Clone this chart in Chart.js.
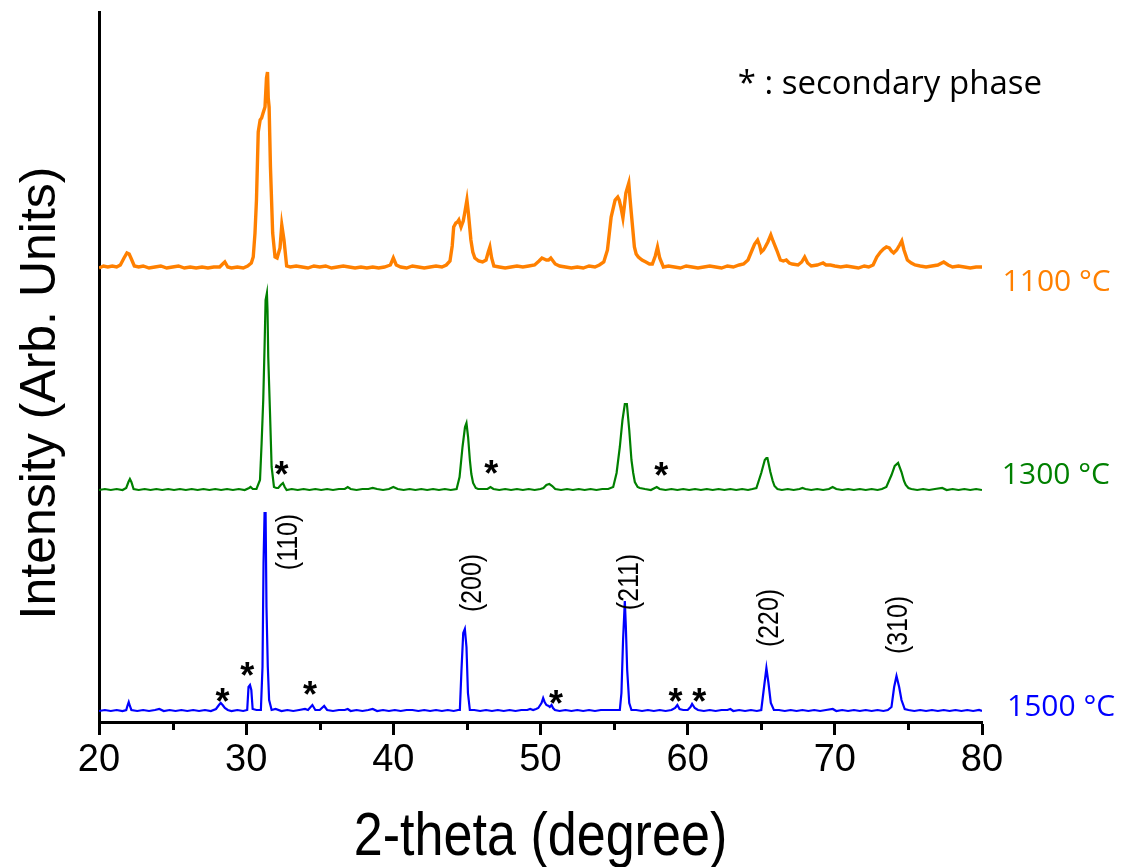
<!DOCTYPE html>
<html>
<head>
<meta charset="utf-8">
<title>XRD patterns</title>
<script src="https://cdn.jsdelivr.net/npm/chart.js@4.4.1/dist/chart.umd.min.js"></script>
<style>
  html, body { margin: 0; padding: 0; background: #fff; }
  canvas { display: block; }
</style>
</head>
<body>
<canvas id="xrd" width="1127" height="867"></canvas>
<script>
// diffraction patterns: [2-theta, intensity above the pattern's own baseline]
const pattern1100 = [
  [20.0,0],[20.3,2],[20.6,1],[20.9,2],[21.2,1],[21.45,3],[21.7,10],[21.9,15],[22.05,14],[22.2,9],[22.4,2],[22.7,1],
  [23.0,2],[23.4,0],[23.8,1],[24.2,2],[24.6,0],[25.0,1],[25.4,2],[25.8,0],[26.2,1],[26.6,0],[27.0,1],[27.4,0],
  [27.8,1],[28.2,1],[28.4,4],[28.55,6],[28.75,1],[29.0,0],[29.4,1],[29.8,0],[30.1,2],[30.35,5],[30.48,11],[30.6,35],
  [30.7,68],[30.82,136],[30.95,148],[31.05,150],[31.15,155],[31.28,161],[31.38,190],[31.45,196],[31.5,170],[31.56,161],
  [31.65,101],[31.8,35],[31.96,11],[32.1,10],[32.3,20],[32.42,43],[32.57,28],[32.75,2],[33.0,1],[33.4,2],[33.8,1],
  [34.2,0],[34.6,2],[35.0,1],[35.4,2],[35.8,0],[36.2,1],[36.6,2],[37.0,1],[37.4,0],[37.8,1],[38.2,0],[38.6,1],
  [39.0,0],[39.4,1],[39.8,3],[40.0,10],[40.2,3],[40.5,1],[40.9,0],[41.3,2],[41.7,1],[42.1,0],[42.5,1],[42.9,2],
  [43.3,1],[43.6,3],[43.85,7],[44.0,22],[44.1,41],[44.25,45],[44.36,46],[44.45,48],[44.6,41],[44.75,47],[44.85,55],
  [45.0,68],[45.1,55],[45.27,28],[45.4,16],[45.54,10],[45.8,7],[46.06,6],[46.3,8],[46.45,16],[46.56,21],[46.68,10],
  [46.83,2],[47.2,1],[47.6,0],[48.0,1],[48.4,2],[48.8,1],[49.2,2],[49.6,3],[49.9,7],[50.1,10],[50.4,8],[50.55,8],
  [50.7,10],[51.0,4],[51.3,2],[51.7,1],[52.1,0],[52.5,1],[52.9,0],[53.3,2],[53.7,1],[54.0,3],[54.3,6],[54.55,18],
  [54.8,51],[55.07,68],[55.25,71],[55.35,68],[55.46,61],[55.6,50],[55.7,62],[55.8,75],[55.9,80],[56.0,85],[56.08,70],
  [56.17,55],[56.38,21],[56.5,14],[56.65,11],[56.9,8],[57.16,6],[57.4,4],[57.6,4],[57.8,12],[57.95,21],[58.1,10],
  [58.35,1],[58.7,2],[59.1,1],[59.5,0],[59.9,2],[60.3,1],[60.7,0],[61.1,1],[61.5,2],[61.9,1],[62.3,0],[62.7,2],
  [63.1,1],[63.5,3],[63.8,4],[64.1,8],[64.38,18],[64.55,24],[64.75,28],[64.9,22],[65.0,16],[65.15,18],[65.27,21],
  [65.45,26],[65.65,33],[65.8,27],[66.05,18],[66.3,8],[66.5,7],[66.7,8],[66.9,5],[67.1,4],[67.5,3],[67.75,6],
  [67.95,11],[68.15,5],[68.4,2],[68.8,3],[69.0,4],[69.2,5],[69.4,3],[69.7,3],[70.0,2],[70.4,1],[70.8,2],[71.2,1],
  [71.6,0],[72.0,2],[72.3,1],[72.6,3],[72.85,11],[73.1,16],[73.3,19],[73.5,21],[73.7,20],[73.85,17],[74.0,15],
  [74.2,18],[74.4,23],[74.55,27],[74.7,18],[74.93,8],[75.2,5],[75.45,3],[75.8,2],[76.2,1],[76.6,2],[77.0,3],
  [77.4,6],[77.7,3],[78.0,1],[78.4,2],[78.8,1],[79.2,0],[79.6,1],[80.0,1]
];
const pattern1300 = [
  [20.0,0],[20.4,1],[20.8,0],[21.2,1],[21.6,0],[21.85,2],[22.0,8],[22.1,11],[22.2,8],[22.35,1],[22.7,0],[23.1,1],
  [23.5,0],[23.9,1],[24.3,0],[24.7,1],[25.1,0],[25.5,1],[25.9,0],[26.3,1],[26.7,0],[27.1,1],[27.5,0],[27.9,1],
  [28.3,0],[28.7,1],[29.1,0],[29.5,1],[29.9,0],[30.2,2],[30.3,3],[30.45,1],[30.7,1],[30.94,10],[31.05,47],[31.16,90],
  [31.25,143],[31.32,190],[31.41,197],[31.45,180],[31.5,133],[31.62,77],[31.73,23],[31.89,3],[32.05,2],[32.18,2],
  [32.35,5],[32.5,7],[32.62,3],[32.75,0],[33.1,1],[33.5,0],[33.9,1],[34.3,0],[34.7,1],[35.1,0],[35.5,1],[35.9,0],
  [36.3,1],[36.7,1],[36.9,3],[37.1,1],[37.5,0],[37.9,1],[38.3,1],[38.6,2],[38.9,1],[39.3,0],[39.7,1],[40.0,3],
  [40.3,1],[40.7,0],[41.1,1],[41.5,0],[41.9,1],[42.3,0],[42.7,1],[43.1,0],[43.5,1],[43.9,0],[44.3,1],[44.5,13],
  [44.7,43],[44.87,63],[44.97,67],[45.08,53],[45.2,30],[45.3,16],[45.42,7],[45.6,2],[45.76,1],[46.1,1],[46.4,1],
  [46.6,3],[46.8,1],[47.2,0],[47.6,1],[48.0,0],[48.4,1],[48.8,0],[49.2,1],[49.6,0],[50.0,1],[50.2,2],[50.4,5],
  [50.6,6],[50.8,4],[51.0,1],[51.4,0],[51.8,1],[52.2,0],[52.6,1],[53.0,0],[53.4,1],[53.8,0],[54.2,1],[54.6,1],
  [54.94,3],[55.17,17],[55.39,43],[55.57,70],[55.73,86],[55.87,86],[56.03,60],[56.18,30],[56.3,17],[56.41,8],
  [56.6,3],[56.75,2],[57.1,1],[57.5,0],[57.9,3],[58.1,1],[58.5,0],[58.9,1],[59.3,0],[59.7,1],[60.1,0],[60.5,1],
  [60.9,0],[61.3,1],[61.7,0],[62.1,1],[62.5,0],[62.9,1],[63.3,0],[63.7,1],[64.1,0],[64.4,1],[64.67,2],[65.0,17],
  [65.24,30],[65.35,32],[65.42,32],[65.62,18],[65.78,9],[65.9,4],[66.1,1],[66.4,0],[66.8,1],[67.2,0],[67.6,1],
  [67.8,2],[68.0,1],[68.4,0],[68.8,1],[69.2,0],[69.6,1],[69.85,3],[70.1,1],[70.5,0],[70.9,1],[71.3,0],[71.7,1],
  [72.1,0],[72.5,1],[72.9,0],[73.2,1],[73.5,3],[73.85,15],[74.07,24],[74.3,27],[74.53,18],[74.7,9],[74.82,5],
  [75.0,2],[75.2,1],[75.6,0],[76.0,1],[76.4,0],[76.8,1],[77.3,2],[77.6,0],[78.0,1],[78.4,0],[78.8,1],[79.2,0],
  [79.6,1],[80.0,0]
];
const pattern1500 = [
  [20.0,0],[20.4,1],[20.8,0],[21.2,1],[21.6,0],[21.85,1],[21.95,6],[22.02,9],[22.1,5],[22.2,1],[22.6,0],[23.0,1],
  [23.4,0],[23.8,1],[24.1,2],[24.4,0],[24.8,1],[25.2,0],[25.6,1],[26.0,0],[26.4,1],[26.8,0],[27.2,1],[27.6,0],
  [27.95,2],[28.15,6],[28.27,8],[28.4,6],[28.55,3],[28.75,1],[29.0,0],[29.4,1],[29.8,0],[30.07,1],[30.16,24],
  [30.26,26],[30.35,21],[30.44,2],[30.7,1],[31.0,1],[31.11,44],[31.18,148],[31.25,198],[31.32,198],[31.38,104],
  [31.47,44],[31.56,11],[31.73,1],[32.0,2],[32.4,0],[32.8,1],[33.2,0],[33.6,1],[34.0,2],[34.2,1],[34.5,6],[34.7,1],
  [35.0,1],[35.3,5],[35.5,1],[35.9,0],[36.3,1],[36.7,1],[36.9,2],[37.1,0],[37.5,1],[37.9,0],[38.3,1],[38.6,2],
  [38.9,0],[39.3,1],[39.7,0],[40.1,1],[40.5,0],[40.9,1],[41.3,1],[41.7,0],[42.1,1],[42.5,0],[42.9,1],[43.3,0],
  [43.7,1],[44.1,0],[44.4,1],[44.52,1],[44.63,41],[44.75,78],[44.86,82],[44.97,64],[45.07,18],[45.2,1],[45.5,1],
  [45.9,0],[46.3,1],[46.7,0],[47.1,1],[47.5,0],[47.9,1],[48.3,0],[48.7,1],[49.1,1],[49.3,2],[49.5,1],[49.7,2],
  [49.85,3],[50.07,8],[50.18,13],[50.28,9],[50.4,6],[50.55,5],[50.63,4],[50.75,6],[50.85,3],[50.98,1],[51.3,0],
  [51.7,1],[52.1,0],[52.5,1],[52.9,0],[53.3,1],[53.7,0],[54.1,1],[54.5,1],[54.9,1],[55.2,1],[55.39,1],[55.5,18],
  [55.61,71],[55.73,110],[55.8,84],[55.89,41],[56.03,8],[56.18,1],[56.5,1],[56.9,0],[57.3,1],[57.7,0],[58.1,1],
  [58.5,0],[58.9,1],[59.15,3],[59.3,6],[59.45,2],[59.7,1],[60.0,1],[60.19,4],[60.3,7],[60.48,3],[60.7,1],[61.1,0],
  [61.5,1],[61.9,0],[62.3,1],[62.7,1],[62.9,2],[63.1,0],[63.5,1],[63.9,0],[64.3,1],[64.7,0],[65.0,1],[65.19,24],
  [65.35,43],[65.49,28],[65.65,8],[65.86,1],[66.2,1],[66.6,0],[67.0,1],[67.4,0],[67.8,1],[68.2,0],[68.6,1],
  [69.0,0],[69.4,1],[69.86,2],[70.1,0],[70.5,1],[70.9,0],[71.3,1],[71.7,0],[72.1,1],[72.5,0],[72.9,1],[73.3,0],
  [73.6,1],[73.85,4],[74.03,24],[74.19,35],[74.37,24],[74.53,11],[74.75,2],[75.0,1],[75.4,0],[75.8,1],[76.2,0],
  [76.6,1],[77.0,0],[77.4,1],[77.8,0],[78.2,1],[78.6,0],[79.0,1],[79.4,0],[79.8,1],[80.0,0]
];

const temperatures = ['1100 °C', '1300 °C', '1500 °C'];
const lineColors = ['#ff8000', '#008000', '#0000ff'];
// vertical shift that stacks the patterns
const baselines = [454, 232, 11];

// secondary phase reflections: [2-theta, intensity]
const starMarks = [
  [32.4, 254], [46.65, 255], [58.2, 253],
  [28.4, 27], [30.07, 53], [34.33, 34], [51.05, 25], [59.17, 27], [60.78, 27]
];
// main phase reflections: [hkl, 2-theta, intensity]
const hklLabels = [
  ['(110)', 32.9, 180], ['(200)', 45.37, 139], ['(211)', 56.07, 140],
  ['(220)', 65.6, 104], ['(310)', 74.35, 97]
];
// where each temperature is written: [2-theta, intensity]
const tempLabelAt = [[81.4, 440], [81.35, 247], [81.7, 15]];
const noteText = '* : secondary phase';
const noteAt = [63.4, 637];

const arial = "'Liberation Sans', Arial, sans-serif";

const patterns = [pattern1100, pattern1300, pattern1500];
const datasets = patterns.map((p, i) => ({
  label: temperatures[i],
  data: p.map(([t, h]) => ({ x: t, y: h + baselines[i] })),
  borderColor: lineColors[i],
  borderWidth: [3.4, 2.2, 2.2][i],
  pointRadius: 0,
  tension: 0,
  fill: false
}));

// text squeezed horizontally, like a narrow sans face
function narrowText(ctx, txt, px, py, rot, squeeze) {
  ctx.save();
  ctx.translate(px, py);
  ctx.rotate(rot);
  ctx.scale(squeeze, 1);
  ctx.fillText(txt, 0, 0);
  ctx.restore();
}

// asterisks, Miller indices, temperatures, the note and the axis titles
const annotate = {
  id: 'annotate',
  afterDraw(chart) {
    const { ctx, scales: { x, y } } = chart;
    ctx.save();

    // short ticks halfway between the labelled ones
    ctx.strokeStyle = '#000';
    ctx.lineWidth = 3;
    x.ticks.forEach(t => {
      if (t.value % 10 === 0) return;
      const px = Math.round(x.getPixelForValue(t.value)) + 0.5;
      ctx.beginPath();
      ctx.moveTo(px, y.bottom);
      ctx.lineTo(px, y.bottom + 8);
      ctx.stroke();
    });

    ctx.fillStyle = '#000';
    ctx.font = 'bold 36px ' + arial;
    ctx.textAlign = 'center';
    ctx.textBaseline = 'alphabetic';
    const m = ctx.measureText('*');
    const shift = (m.actualBoundingBoxAscent - m.actualBoundingBoxDescent) / 2;
    starMarks.forEach(([t, v]) => {
      ctx.fillText('*', x.getPixelForValue(t), y.getPixelForValue(v) + shift);
    });

    ctx.font = '30px ' + arial;
    ctx.textBaseline = 'middle';
    hklLabels.forEach(([txt, t, v]) => {
      narrowText(ctx, txt, x.getPixelForValue(t), y.getPixelForValue(v), -Math.PI / 2, 0.83);
    });

    ctx.textAlign = 'left';
    ctx.font = "30px 'Open Sans', sans-serif";
    temperatures.forEach((txt, i) => {
      ctx.fillStyle = lineColors[i];
      ctx.fillText(txt, x.getPixelForValue(tempLabelAt[i][0]), y.getPixelForValue(tempLabelAt[i][1]));
    });

    ctx.fillStyle = '#000';
    ctx.font = "33px 'Open Sans', sans-serif";
    ctx.fillText(noteText, x.getPixelForValue(noteAt[0]), y.getPixelForValue(noteAt[1]));

    // axis titles
    ctx.textAlign = 'center';
    ctx.textBaseline = 'alphabetic';
    ctx.font = '62px ' + arial;
    narrowText(ctx, '2-theta (degree)', (x.left + x.right) / 2, 855, 0, 0.84);

    ctx.font = '50px ' + arial;
    ctx.textBaseline = 'middle';
    narrowText(ctx, 'Intensity (Arb. Units)', 41, 393, -Math.PI / 2, 1);

    ctx.restore();
  }
};

new Chart(document.getElementById('xrd'), {
  type: 'line',
  data: { datasets },
  options: {
    responsive: false,
    animation: false,
    devicePixelRatio: 1,
    layout: { padding: { top: 12, right: 145, left: 0, bottom: 0 } },
    plugins: { legend: { display: false }, tooltip: { enabled: false } },
    scales: {
      x: {
        type: 'linear',
        min: 20,
        max: 80,
        afterFit: s => { s.height = 145; },
        border: { display: true, color: '#000', width: 3 },
        grid: {
          display: true,
          drawOnChartArea: false,
          drawTicks: true,
          tickLength: 13,
          tickWidth: 3,
          tickColor: c => (c.tick && c.tick.value % 10 === 0 ? '#000' : 'rgba(0,0,0,0)')
        },
        ticks: {
          stepSize: 5,
          autoSkip: false,
          maxRotation: 0,
          padding: 3,
          color: '#000',
          font: { family: arial, size: 38 },
          callback: v => (v % 10 === 0 ? String(v) : '')
        }
      },
      y: {
        type: 'linear',
        min: 0,
        max: 710,
        afterFit: s => { s.width = 99; },
        border: { display: true, color: '#000', width: 3 },
        grid: { display: false },
        ticks: { display: false }
      }
    }
  },
  plugins: [annotate]
});
</script>
</body>
</html>
